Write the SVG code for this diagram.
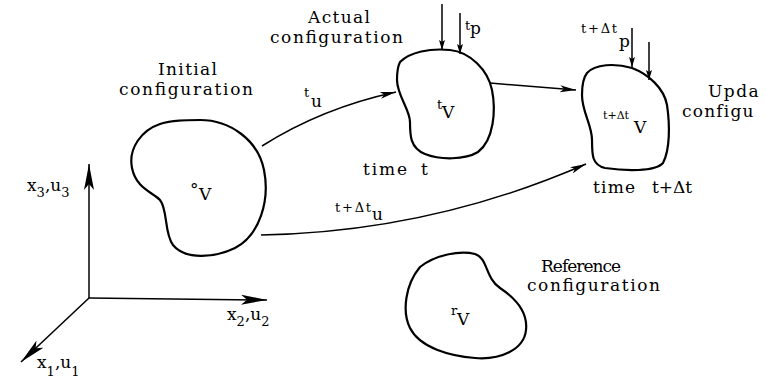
<svg xmlns="http://www.w3.org/2000/svg" width="766" height="380" viewBox="0 0 766 380">
<style>
.lbl{font-family:"DejaVu Serif","Liberation Serif",serif;font-size:17px;fill:#000}
.sup{font-size:13px}
.blob{fill:none;stroke:#000;stroke-width:2.2}
.conn{fill:none;stroke:#000;stroke-width:1.5}
</style>
<defs>
<marker id="ah" viewBox="0 0 16 8" refX="16" refY="4" markerWidth="16" markerHeight="8" markerUnits="userSpaceOnUse" orient="auto"><path d="M0,0.5 L16,4 L0,7.5 L4,4 Z" fill="#000"/></marker>
<marker id="ph" viewBox="0 0 10 6" refX="10" refY="3" markerWidth="10" markerHeight="6" markerUnits="userSpaceOnUse" orient="auto"><path d="M0,0 L10,3 L0,6 L2,3 Z" fill="#000"/></marker>
<marker id="axh" viewBox="0 0 26 10" refX="26" refY="5" markerWidth="26" markerHeight="10" markerUnits="userSpaceOnUse" orient="auto"><path d="M0,0 L26,5 L0,10 L6,5 Z" fill="#000"/></marker>
</defs>
<rect width="766" height="380" fill="#fff"/>
<g id="axes">
<path class="conn" d="M89,298 L89,164" marker-end="url(#axh)"/>
<path class="conn" d="M89,298 L267,300" marker-end="url(#axh)"/>
<path class="conn" d="M89,298 L21,362" marker-end="url(#axh)"/>
<text class="lbl" x="27" y="191">x<tspan class="sup" dy="6">3</tspan><tspan dy="-6">,u</tspan><tspan class="sup" dy="6">3</tspan></text>
<text class="lbl" x="227" y="320">x<tspan class="sup" dy="6">2</tspan><tspan dy="-6">,u</tspan><tspan class="sup" dy="6">2</tspan></text>
<text class="lbl" x="37" y="368">x<tspan class="sup" dy="8">1</tspan><tspan dy="-8">,u</tspan><tspan class="sup" dy="8">1</tspan></text>
</g>
<g id="initial">
<path class="blob" d="M200,120 C230,120 258,140 264,170 C270,200 260,235 235,248 C215,258 185,260 173,245 C164,233 168,210 160,200 C152,192 136,188 132,168 C128,148 142,130 160,124 C172,120 186,120 200,120 Z"/>
<text class="lbl" x="158" y="75" textLength="59" lengthAdjust="spacing">Initial</text>
<text class="lbl" x="119" y="95" textLength="134" lengthAdjust="spacing">configuration</text>
<text class="lbl" x="190" y="195">°</text>
<text class="lbl" x="199" y="200">V</text>
</g>
<g id="actual">
<path class="blob" d="M400,62 C410,52 430,48 450,50 C470,52 488,70 492,90 C496,110 494,140 478,152 C465,160 440,160 425,154 C410,148 410,135 410,122 C410,110 397,95 397,80 C397,72 398,66 400,62 Z"/>
<text class="lbl" x="308" y="23" textLength="62" lengthAdjust="spacing">Actual</text>
<text class="lbl" x="270" y="43" textLength="133" lengthAdjust="spacing">configuration</text>
<text class="lbl sup" x="437" y="109">t</text>
<text class="lbl" x="442" y="118">V</text>
<text class="lbl" x="363" y="175" textLength="44" lengthAdjust="spacing">time</text>
<text class="lbl" x="421" y="175">t</text>
<text class="lbl sup" x="465" y="30">t</text>
<text class="lbl" x="470" y="34">p</text>
</g>
<g id="updated">
<path class="blob" d="M587,73 C595,64 615,63 632,68 C648,74 664,88 667,105 C670,125 670,150 663,163 C655,172 625,171 605,168 C592,165 592,155 592,140 C592,125 582,112 582,95 C582,85 583,78 587,73 Z"/>
<text class="lbl" x="708" y="97" letter-spacing="1.5">Upda</text>
<text class="lbl" x="682" y="117" letter-spacing="1.2">configu</text>
<text class="lbl" x="603" y="119"><tspan font-size="11">t+Δt</tspan><tspan x="634" y="133">V</tspan></text>
<text class="lbl sup" x="581" y="33" textLength="36" lengthAdjust="spacing">t+Δt</text>
<text class="lbl" x="619" y="47">p</text>
<text class="lbl" x="593" y="193" textLength="42" lengthAdjust="spacing">time</text>
<text class="lbl" x="652" y="193" textLength="40" lengthAdjust="spacing">t+Δt</text>
</g>
<g id="reference">
<path class="blob" d="M420,267 C435,255 460,250 475,254 C488,258 485,278 500,288 C515,298 528,312 526,330 C524,350 500,360 475,358 C450,356 420,348 410,328 C402,312 405,285 420,267 Z"/>
<text class="lbl" x="541" y="272" font-size="16" textLength="80" lengthAdjust="spacing">Reference</text>
<text class="lbl" x="527" y="291" textLength="133" lengthAdjust="spacing">configuration</text>
<text class="lbl sup" x="451" y="315">r</text>
<text class="lbl" x="457" y="325">V</text>
</g>
<g id="connectors">
<path class="conn" d="M262,146 Q322,108 396,92" marker-end="url(#ah)"/>
<text class="lbl sup" x="304" y="97">t</text>
<text class="lbl" x="311" y="107">u</text>
<path class="conn" d="M490,83 L576,90" marker-end="url(#ah)"/>
<path class="conn" d="M261,235 Q430,232 586,164" marker-end="url(#ah)"/>
<text class="lbl sup" x="335" y="212" textLength="36" lengthAdjust="spacing">t+Δt</text>
<text class="lbl" x="372" y="220">u</text>
<path class="conn" d="M442,4 L442,50" marker-end="url(#ph)"/>
<path class="conn" d="M460,13 L460,54" marker-end="url(#ph)"/>
<path class="conn" d="M632,28 L632,67" marker-end="url(#ph)"/>
<path class="conn" d="M649,42 L649,80" marker-end="url(#ph)"/>
</g>
</svg>
